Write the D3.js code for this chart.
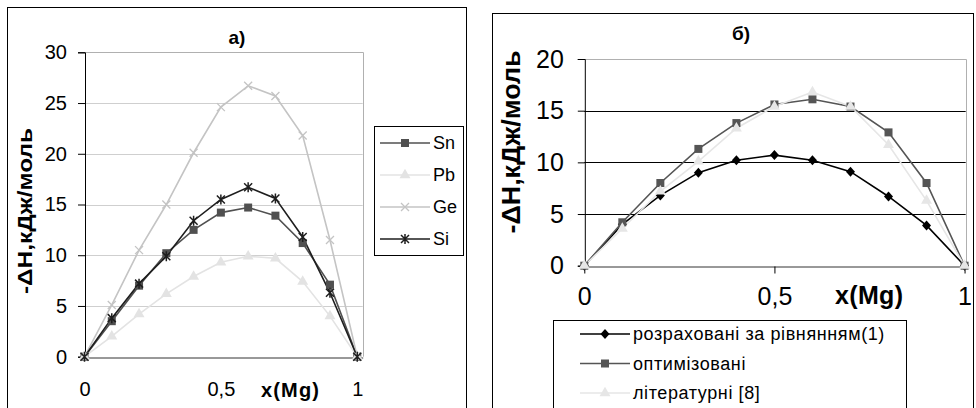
<!doctype html>
<html lang="uk">
<head>
<meta charset="UTF-8">
<title>-ΔH Mg systems</title>
<script src="https://d3js.org/d3.v7.min.js"></script>
<style>
  body { margin: 0; background: #fff; }
  svg { display: block; font-family: Arial, "Liberation Sans", sans-serif; }
</style>
</head>
<body>
<script>
// x(Mg) values shared by all series
const xMg = [0, 0.1, 0.2, 0.3, 0.4, 0.5, 0.6, 0.7, 0.8, 0.9, 1];

// panel a)
const seriesA = ["Sn", "Pb", "Ge", "Si"];
const sn = [0, 3.5, 7.0, 10.2, 12.5, 14.2, 14.7, 13.9, 11.2, 7.1, 0];
const pb = [0, 2.0, 4.2, 6.2, 7.9, 9.3, 9.9, 9.7, 7.4, 4.0, 0];
const ge = [0, 5.1, 10.5, 15.0, 20.1, 24.6, 26.7, 25.7, 21.8, 11.5, 0];
const si = [0, 3.8, 7.2, 9.9, 13.4, 15.5, 16.7, 15.6, 11.8, 6.3, 0];
const yTicksA = [0, 5, 10, 15, 20, 25, 30];

// panel б)
const seriesB = ["розраховані за рівнянням(1)", "оптимізовані", "літературні [8]"];
const calc = [0, 4.0, 6.8, 9.0, 10.2, 10.7, 10.2, 9.1, 6.7, 3.9, 0];
const optim = [0, 4.2, 8.0, 11.3, 13.8, 15.6, 16.1, 15.4, 12.9, 8.0, 0];
const lit = [0, 3.6, 7.2, 10.1, 13.3, 15.4, 16.8, 15.4, 11.7, 6.3, 0];
const yTicksB = [0, 5, 10, 15, 20];

const xTicks = [0, 0.5, 1];
const xTickLabels = ["0", "0,5", "1"];
const yTitle = "-ΔН,кДж/моль";

const W = 976, H = 408;
const svg = d3.select("body").append("svg").attr("width", W).attr("height", H);

function marker(g, kind, x, y, color) {
  if (kind === "square") {
    g.append("rect").attr("x", x - 4).attr("y", y - 4).attr("width", 8).attr("height", 8).attr("fill", color);
  } else if (kind === "triangle") {
    g.append("path").attr("d", d3.symbol(d3.symbolTriangle, 52)()).attr("transform", `translate(${x},${y})`).attr("fill", color);
  } else if (kind === "diamond") {
    g.append("path").attr("d", `M${x},${y-5}L${x+4.5},${y}L${x},${y+5}L${x-4.5},${y}Z`).attr("fill", color);
  } else if (kind === "cross") {
    g.append("path").attr("d", `M${x-4},${y-4}L${x+4},${y+4}M${x-4},${y+4}L${x+4},${y-4}`).attr("stroke", color).attr("stroke-width", 1.3);
  } else if (kind === "star") {
    g.append("path").attr("d", `M${x-4},${y-4}L${x+4},${y+4}M${x-4},${y+4}L${x+4},${y-4}M${x},${y-5}L${x},${y+5}`).attr("stroke", color).attr("stroke-width", 1.5);
  }
}

function panel(cfg) {
  const g = svg.append("g");
  // outer frame
  g.append("rect").attr("x", cfg.frame[0] + 0.5).attr("y", cfg.frame[1] + 0.5)
    .attr("width", cfg.frame[2]).attr("height", cfg.frame[3])
    .attr("fill", "#fff").attr("stroke", "#000");

  const x = d3.scaleLinear().domain([0, cfg.xMax]).range([cfg.left, cfg.right]);
  const y = d3.scaleLinear().domain([0, cfg.yMax]).range([cfg.bottom, cfg.top]);

  // grid lines
  g.append("g").selectAll("line").data(cfg.yTicks.filter(d => d > 0 && d < cfg.yMax)).join("line")
    .attr("x1", cfg.left).attr("x2", x(cfg.xMax))
    .attr("y1", d => Math.round(y(d)) + 0.5).attr("y2", d => Math.round(y(d)) + 0.5)
    .attr("stroke", cfg.gridColor).attr("stroke-width", 1);
  // plot border (top/right)
  g.append("path")
    .attr("d", `M${cfg.left},${Math.round(y(cfg.yMax)) + 0.5}H${Math.round(x(cfg.xMax)) + 0.5}V${cfg.bottom}`)
    .attr("fill", "none").attr("stroke", "#b0b0b0");

  // y axis
  const ya = g.append("g").attr("transform", `translate(${cfg.left + 0.5},0)`)
    .call(d3.axisLeft(y).tickValues(cfg.yTicks).tickSize(7).tickPadding(cfg.yTickPad).tickFormat(d3.format("d")));
  ya.select(".domain").attr("stroke", "#000");
  ya.selectAll("text").attr("font-size", cfg.tickFont).attr("fill", "#000").attr("font-family", "Arial, Liberation Sans");

  // x axis
  const xa = g.append("g").attr("transform", `translate(0,${Math.round(cfg.bottom) + 0.5})`)
    .call(d3.axisBottom(x).tickValues(xTicks).tickSize(cfg.xTickSize).tickSizeOuter(0).tickPadding(cfg.xTickPad)
      .tickFormat((d, i) => xTickLabels[i]));
  xa.select(".domain").attr("stroke", "#333");
  xa.selectAll("text").attr("font-size", cfg.tickFont).attr("fill", "#000").attr("font-family", "Arial, Liberation Sans");

  // titles
  g.append("text").attr("x", cfg.titlePos[0]).attr("y", cfg.titlePos[1]).attr("text-anchor", "middle")
    .attr("font-weight", "bold").attr("font-size", cfg.titleFont).text(cfg.title);
  g.append("text").attr("transform", `translate(${cfg.yTitlePos[0]},${cfg.yTitlePos[1]}) rotate(-90)`)
    .attr("text-anchor", "middle").attr("font-weight", "bold").attr("font-size", cfg.yTitleFont)
    .attr("textLength", cfg.yTitleLen).attr("lengthAdjust", "spacingAndGlyphs").text(yTitle);
  g.append("text").attr("x", cfg.xTitlePos[0]).attr("y", cfg.xTitlePos[1]).attr("text-anchor", "middle")
    .attr("font-weight", "bold").attr("font-size", cfg.xTitleFont)
    .attr("textLength", cfg.xTitleLen).attr("lengthAdjust", "spacing").text("x(Mg)");

  // series
  const line = d3.line().x((d, i) => x(xMg[i])).y(d => y(d));
  cfg.series.forEach(s => {
    g.append("path").datum(s.values).attr("d", line).attr("fill", "none")
      .attr("stroke", s.color).attr("stroke-width", 1.6);
  });
  cfg.series.forEach(s => {
    const mg = g.append("g");
    s.values.forEach((v, i) => marker(mg, s.marker, x(xMg[i]), y(v), s.color));
  });

  // legend
  const L = cfg.legend;
  g.append("rect").attr("x", L.x + 0.5).attr("y", L.y + 0.5).attr("width", L.w).attr("height", L.h)
    .attr("fill", "#fff").attr("stroke", "#000");
  cfg.series.forEach((s, i) => {
    const ly = L.y + L.first + i * L.step;
    g.append("line").attr("x1", L.x + L.l0).attr("x2", L.x + L.l1).attr("y1", ly).attr("y2", ly)
      .attr("stroke", s.color).attr("stroke-width", 1.5);
    marker(g, s.marker, L.x + (L.l0 + L.l1) / 2, ly, s.color);
    g.append("text").attr("x", L.x + L.l1 + 3).attr("y", ly).attr("dy", "0.35em")
      .attr("font-size", L.font).attr("letter-spacing", L.spacing).text(s.name);
  });
}

panel({
  frame: [7, 7, 459, 420],
  left: 84.5, right: 362.7, top: 52.3, bottom: 356.7, xMax: 1.02, yMax: 30,
  yTicks: yTicksA, gridColor: "#cfcfcf", tickFont: 20, yTickPad: 11, xTickSize: 0, xTickPad: 24,
  title: "a)", titlePos: [237, 44], titleFont: 19,
  yTitlePos: [32, 211], yTitleFont: 20, yTitleLen: 166,
  xTitlePos: [290, 397], xTitleFont: 20, xTitleLen: 58,
  series: [
    {name: seriesA[0], values: sn, color: "#505050", marker: "square"},
    {name: seriesA[1], values: pb, color: "#e3e3e3", marker: "triangle"},
    {name: seriesA[2], values: ge, color: "#c4c4c4", marker: "cross"},
    {name: seriesA[3], values: si, color: "#1e1e1e", marker: "star"}
  ],
  legend: {x: 374, y: 126, w: 89, h: 129, first: 17, step: 32, l0: 6, l1: 56, font: 18, spacing: 0}
});

panel({
  frame: [492, 13, 481, 420],
  left: 584.3, right: 965.7, top: 59, bottom: 265.7, xMax: 1.003, yMax: 20,
  yTicks: yTicksB, gridColor: "#000", tickFont: 25, yTickPad: 14, xTickSize: 7, xTickPad: 14,
  title: "б)", titlePos: [741, 40], titleFont: 19,
  yTitlePos: [520, 142], yTitleFont: 25, yTitleLen: 183,
  xTitlePos: [869, 304], xTitleFont: 25, xTitleLen: 68,
  series: [
    {name: seriesB[0], values: calc, color: "#000", marker: "diamond"},
    {name: seriesB[1], values: optim, color: "#555", marker: "square"},
    {name: seriesB[2], values: lit, color: "#e6e6e6", marker: "triangle"}
  ],
  legend: {x: 553, y: 320, w: 353, h: 100, first: 14, step: 29.5, l0: 27, l1: 77, font: 18, spacing: 0.6}
});
</script>
</body>
</html>
